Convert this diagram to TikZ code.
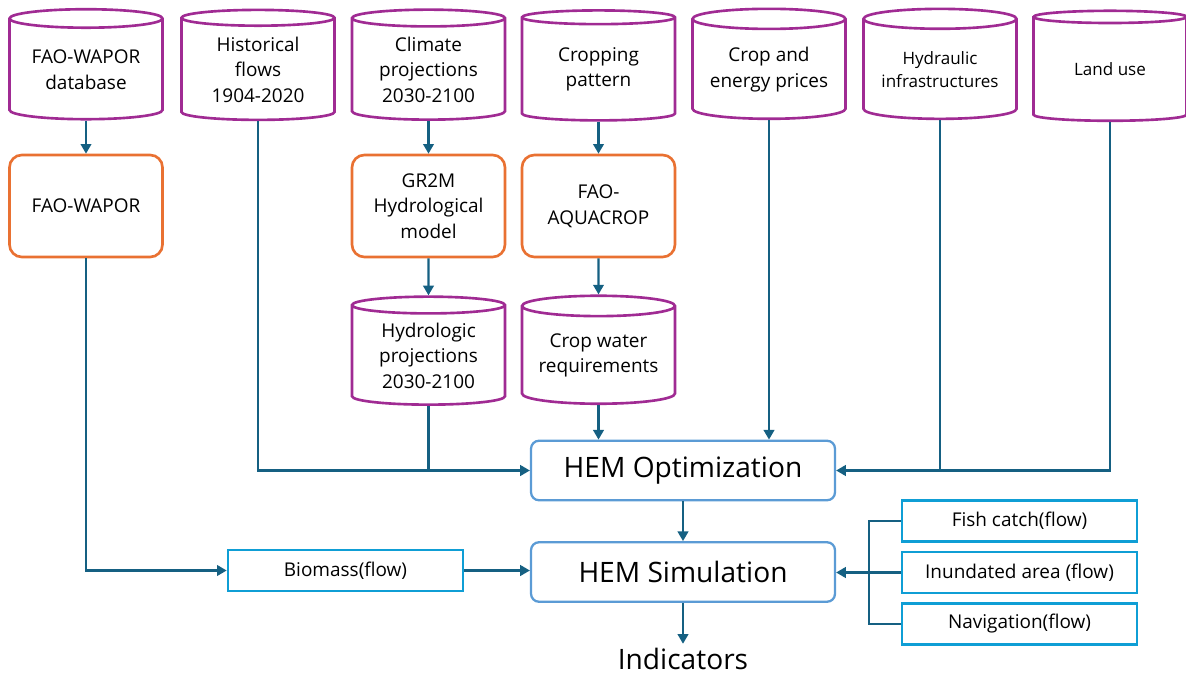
\documentclass[tikz,border=0pt]{standalone}
\usepackage{fontspec}
\setmainfont{Open Sans}
\usetikzlibrary{shapes.geometric,arrows.meta}

\definecolor{dbpurple}{HTML}{A02B93}
\definecolor{modorange}{HTML}{E97132}
\definecolor{hemblue}{HTML}{5B9BD5}
\definecolor{flowcyan}{HTML}{0F9ED5}
\definecolor{linkblue}{HTML}{156082}

\tikzset{
	dbase/.style={cylinder, shape border rotate=90, aspect=0.17, draw=dbpurple, line width=1.5pt,
		minimum width=3.06cm, minimum height=2.2cm, inner xsep=0pt, inner ysep=-12pt, align=center,
		font=\fontsize{10.8}{14.5}\selectfont},
	model/.style={rectangle, rounded corners=7pt, draw=modorange, line width=1.5pt,
		minimum width=3.06cm, minimum height=2.04cm, inner sep=0pt, align=center,
		font=\fontsize{10.8}{14.5}\selectfont},
	hem/.style={rectangle, rounded corners=4.5pt, draw=hemblue, line width=1.3pt,
		minimum width=6.08cm, minimum height=1.19cm, font=\fontsize{16}{19}\selectfont},
	flowbox/.style={rectangle, draw=flowcyan, line width=1.5pt,
		minimum width=4.7cm, minimum height=0.82cm, inner sep=0pt,
		font=\fontsize{10.8}{13}\selectfont},
	link/.style={draw=linkblue, line width=1.25pt},
	arr/.style={link, -{Triangle[length=5.5pt,width=6pt]}}
}

\begin{document}
\begin{tikzpicture}[x=0.02cm,y=-0.02cm]
	\useasboundingbox (0,0) rectangle (1186,675);

% data sources
	\node[dbase] (wapordb) at (86,69.5) {FAO-WAPOR\\database};
	\node[dbase] (hist) at (258,69.5) {Historical\\flows\\1904-2020};
	\node[dbase] (climate) at (428.5,69.5) {Climate\\projections\\2030-2100};
	\node[dbase] (cropping) at (598.5,69.5) {Cropping\\pattern};
	\node[dbase] (prices) at (769,69.5) {Crop and\\energy prices};
	\node[dbase, font=\fontsize{9.7}{13}\selectfont] (infra) at (940,69.5) {Hydraulic\\infrastructures};
	\node[dbase, font=\fontsize{9.7}{13}\selectfont] (landuse) at (1110,69.5) {Land use};

% models
	\node[model] (wapor) at (86,206) {FAO-WAPOR};
	\node[model] (gr2m) at (428.5,206) {GR2M\\Hydrological\\model};
	\node[model] (aqua) at (598.5,206) {FAO-\\AQUACROP};

% model outputs
	\node[dbase, minimum height=2.16cm] (hydproj) at (428.5,355.5) {Hydrologic\\projections\\2030-2100};
	\node[dbase, minimum height=2.16cm] (cropwater) at (598.5,355.5) {Crop water\\requirements};

% HEM
	\node[hem] (opt) at (683,470.5) {HEM Optimization};
	\node[hem] (sim) at (683,572) {HEM Simulation};
	\node[font=\fontsize{16}{19}\selectfont, anchor=base, inner sep=2pt] (ind) at (683,669) {Indicators};

% flows
	\node[flowbox] (bio) at (345.5,570.5) {Biomass(flow)};
	\node[flowbox] (fish) at (1019.5,521) {Fish catch(flow)};
	\node[flowbox] (inund) at (1019.5,572.5) {Inundated area (flow)};
	\node[flowbox] (nav) at (1019.5,624) {Navigation(flow)};
	\coordinate (fork) at (869,572);

	%Links
	\draw[arr] (wapordb) -- (wapor);
	\draw[arr] (climate) -- (gr2m);
	\draw[arr] (gr2m) -- (hydproj);
	\draw[arr] (cropping) -- (aqua);
	\draw[arr] (aqua) -- (cropwater);

	% into HEM Optimization
	\draw[arr] (hist.south) |- (opt.west);
	\draw[link] (hydproj.south) -- (hydproj.south |- opt.west);
	\draw[arr] (cropwater.south) -- (cropwater.south |- opt.north);
	\draw[arr] (prices.south) -- (prices.south |- opt.north);
	\draw[arr] (landuse.south) |- (opt.east);
	\draw[link] (infra.south) -- (infra.south |- opt.east);

	% into HEM Simulation
	\draw[arr] (opt) -- (sim);
	\draw[arr] (wapor.south) |- (bio.west);
	\draw[arr] (bio.east) -- (bio.east -| sim.west);
	\draw[link] (fish.west) -| (fork) |- (nav.west);
	\draw[arr] (inund.west) -- (inund.west -| sim.east);
	\draw[arr] (sim) -- (ind);
\end{tikzpicture}
\end{document}
